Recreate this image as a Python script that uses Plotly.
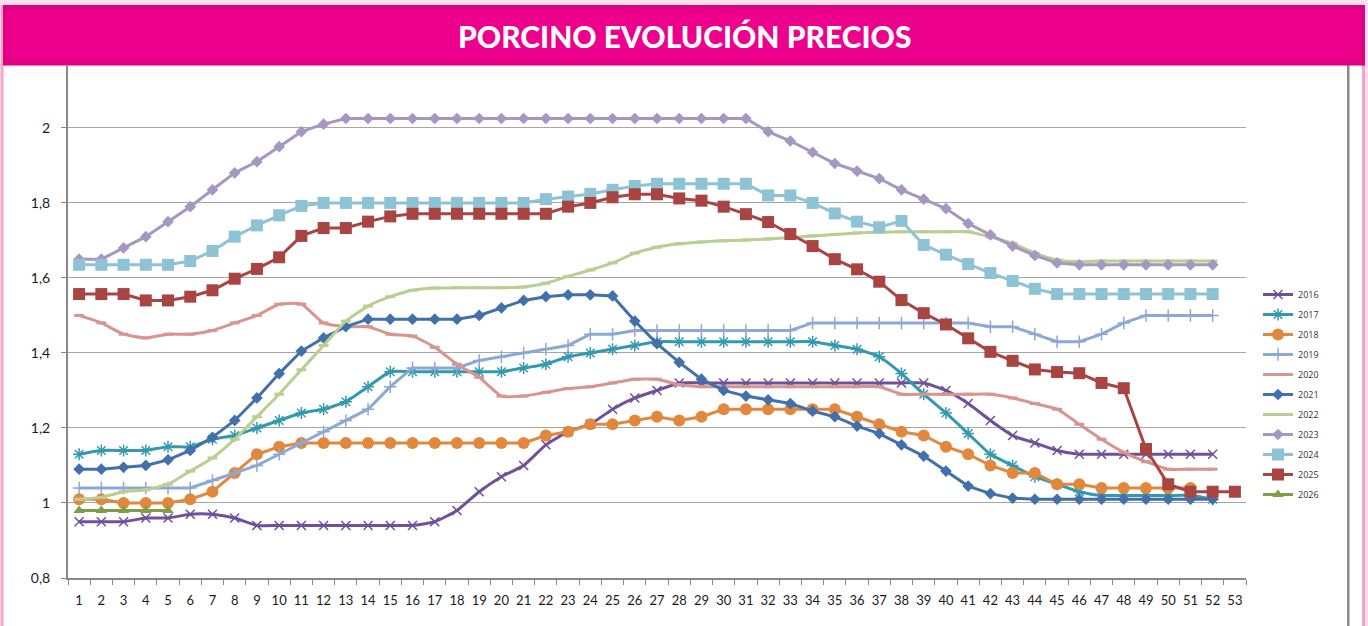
import plotly.graph_objects as go

# ---- weekly pig price series (EUR/kg), one list per year ----
weeks = [str(w) for w in range(1, 54)]

p2016 = [0.95, 0.95, 0.95, 0.96, 0.96, 0.97, 0.97, 0.96, 0.94, 0.94,
         0.94, 0.94, 0.94, 0.94, 0.94, 0.94, 0.95, 0.98, 1.03, 1.07,
         1.10, 1.155, 1.19, 1.21, 1.25, 1.28, 1.30, 1.32, 1.32, 1.32,
         1.32, 1.32, 1.32, 1.32, 1.32, 1.32, 1.32, 1.32, 1.32, 1.30,
         1.265, 1.22, 1.18, 1.16, 1.14, 1.13, 1.13, 1.13, 1.13, 1.13,
         1.13, 1.13]
p2017 = [1.13, 1.14, 1.14, 1.14, 1.15, 1.15, 1.17, 1.18, 1.20, 1.22,
         1.24, 1.25, 1.27, 1.31, 1.35, 1.35, 1.35, 1.35, 1.35, 1.35,
         1.36, 1.37, 1.39, 1.40, 1.41, 1.42, 1.43, 1.43, 1.43, 1.43,
         1.43, 1.43, 1.43, 1.43, 1.42, 1.41, 1.39, 1.345, 1.29, 1.24,
         1.185, 1.13, 1.10, 1.07, 1.05, 1.03, 1.02, 1.02, 1.02, 1.02,
         1.02, 1.01]
p2018 = [1.01, 1.01, 1.00, 1.00, 1.00, 1.01, 1.03, 1.08, 1.13, 1.15,
         1.16, 1.16, 1.16, 1.16, 1.16, 1.16, 1.16, 1.16, 1.16, 1.16,
         1.16, 1.18, 1.19, 1.21, 1.21, 1.22, 1.23, 1.22, 1.23, 1.25,
         1.25, 1.25, 1.25, 1.25, 1.25, 1.23, 1.21, 1.19, 1.18, 1.15,
         1.13, 1.10, 1.08, 1.08, 1.05, 1.05, 1.04, 1.04, 1.04, 1.04,
         1.04]
p2019 = [1.04, 1.04, 1.04, 1.04, 1.04, 1.04, 1.06, 1.08, 1.10, 1.13,
         1.16, 1.19, 1.22, 1.25, 1.31, 1.36, 1.36, 1.36, 1.38, 1.39,
         1.40, 1.41, 1.42, 1.45, 1.45, 1.46, 1.46, 1.46, 1.46, 1.46,
         1.46, 1.46, 1.46, 1.48, 1.48, 1.48, 1.48, 1.48, 1.48, 1.48,
         1.48, 1.47, 1.47, 1.45, 1.43, 1.43, 1.45, 1.48, 1.50, 1.50,
         1.50, 1.50]
p2020 = [1.50, 1.48, 1.45, 1.44, 1.45, 1.45, 1.46, 1.48, 1.50, 1.53,
         1.53, 1.48, 1.47, 1.47, 1.45, 1.445, 1.415, 1.37, 1.335, 1.285,
         1.285, 1.295, 1.305, 1.31, 1.32, 1.33, 1.33, 1.315, 1.31, 1.31,
         1.31, 1.31, 1.31, 1.31, 1.31, 1.31, 1.31, 1.29, 1.29, 1.29,
         1.29, 1.29, 1.28, 1.265, 1.25, 1.21, 1.17, 1.135, 1.11, 1.09,
         1.09, 1.09]
p2021 = [1.09, 1.09, 1.095, 1.10, 1.115, 1.14, 1.175, 1.22, 1.28, 1.345,
         1.405, 1.44, 1.47, 1.49, 1.49, 1.49, 1.49, 1.49, 1.50, 1.52,
         1.54, 1.55, 1.555, 1.555, 1.552, 1.485, 1.425, 1.375, 1.33, 1.30,
         1.285, 1.275, 1.265, 1.245, 1.23, 1.205, 1.185, 1.155, 1.125, 1.085,
         1.045, 1.025, 1.013, 1.01, 1.01, 1.01, 1.01, 1.01, 1.01, 1.01,
         1.01, 1.01]
p2022 = [1.01, 1.015, 1.03, 1.035, 1.05, 1.085, 1.12, 1.17, 1.23, 1.29,
         1.355, 1.42, 1.485, 1.525, 1.55, 1.567, 1.573, 1.574, 1.574, 1.574,
         1.576, 1.586, 1.604, 1.621, 1.64, 1.666, 1.682, 1.691, 1.696, 1.699,
         1.701, 1.704, 1.708, 1.712, 1.716, 1.72, 1.722, 1.723, 1.723, 1.723,
         1.723, 1.709, 1.692, 1.666, 1.648, 1.643, 1.645, 1.645, 1.645, 1.645,
         1.645, 1.645]
p2023 = [1.65, 1.65, 1.68, 1.71, 1.75, 1.79, 1.835, 1.88, 1.91, 1.95,
         1.99, 2.01, 2.025, 2.025, 2.025, 2.025, 2.025, 2.025, 2.025, 2.025,
         2.025, 2.025, 2.025, 2.025, 2.025, 2.025, 2.025, 2.025, 2.025, 2.025,
         2.025, 1.99, 1.965, 1.935, 1.905, 1.885, 1.865, 1.835, 1.81, 1.785,
         1.745, 1.715, 1.685, 1.66, 1.64, 1.635, 1.635, 1.635, 1.635, 1.635,
         1.635, 1.635]
p2024 = [1.635, 1.635, 1.635, 1.635, 1.635, 1.645, 1.672, 1.71, 1.74, 1.767,
         1.792, 1.80, 1.80, 1.80, 1.80, 1.80, 1.80, 1.80, 1.80, 1.80,
         1.80, 1.81, 1.817, 1.824, 1.835, 1.845, 1.851, 1.851, 1.851, 1.851,
         1.851, 1.82, 1.82, 1.80, 1.772, 1.75, 1.735, 1.752, 1.688, 1.662,
         1.637, 1.613, 1.592, 1.571, 1.557, 1.557, 1.557, 1.557, 1.557, 1.557,
         1.557, 1.557]
p2025 = [1.557, 1.557, 1.557, 1.54, 1.54, 1.55, 1.567, 1.598, 1.624, 1.655,
         1.712, 1.733, 1.733, 1.75, 1.764, 1.771, 1.771, 1.771, 1.771, 1.771,
         1.771, 1.771, 1.79, 1.80, 1.815, 1.823, 1.823, 1.812, 1.806, 1.79,
         1.77, 1.749, 1.717, 1.685, 1.65, 1.623, 1.59, 1.541, 1.506, 1.476,
         1.439, 1.403, 1.379, 1.356, 1.349, 1.346, 1.32, 1.306, 1.144, 1.05,
         1.03, 1.03, 1.03]
p2026 = [0.98, 0.98, 0.98, 0.98, 0.98]

series = [
    ("2016", p2016, "#70509A", dict(symbol="x-thin", size=9, line=dict(width=1.5, color="#70509A")), "spline"),
    ("2017", p2017, "#3399AE", dict(symbol="asterisk", size=10, line=dict(width=1.5, color="#3399AE")), "spline"),
    ("2018", p2018, "#E2883C", dict(symbol="circle", size=12), "linear"),
    ("2019", p2019, "#8EA8D6", dict(symbol="cross-thin", size=9, line=dict(width=1.5, color="#8EA8D6")), "linear"),
    ("2020", p2020, "#D8948F", dict(symbol="line-ew", size=7, line=dict(width=3, color="#D8948F")), "spline"),
    ("2021", p2021, "#4170AA", dict(symbol="diamond", size=9), "linear"),
    ("2022", p2022, "#B8CF92", dict(symbol="line-ew", size=7, line=dict(width=3, color="#B8CF92")), "spline"),
    ("2023", p2023, "#A697C2", dict(symbol="diamond", size=9), "linear"),
    ("2024", p2024, "#8EC3D5", dict(symbol="square", size=12), "linear"),
    ("2025", p2025, "#A84442", dict(symbol="square", size=12), "linear"),
    ("2026", p2026, "#7E9D45", dict(symbol="triangle-up", size=10), "linear"),
]

fig = go.Figure()
for name, vals, col, mk, shape in series:
    mk = dict(mk)
    mk.setdefault("color", col)
    fig.add_trace(go.Scatter(
        x=weeks[:len(vals)], y=vals, name=name, mode="lines+markers",
        line=dict(color=col, width=3, shape=shape, smoothing=0.5),
        marker=mk, legendgroup=name,
    ))

# ---- page frame geometry (pixels) ----
W, H = 1368, 626
PL, PR, PT, PB = 68, 1246, 66, 578


def fx(px):
    return (px - PL) / (PR - PL)


def fy(py):
    return (PB - py) / (PB - PT)


shapes = []


def rect(x0, y0, x1, y1, fill, layer="above"):
    shapes.append(dict(type="rect", xref="paper", yref="paper",
                       x0=fx(x0), x1=fx(x1), y0=fy(y1), y1=fy(y0),
                       fillcolor=fill, line=dict(width=0), layer=layer))


# light pink page edge
rect(0, 0, W, 5, "#FCE1EB")
rect(1365, 0, W, H, "#FCE1EB")
# pink side rules
rect(0.5, 5, 3.5, H, "#F4A4C8")
rect(1362, 65, 1365, H, "#F4A4C8")
# grey rule next to the legend
rect(1347, 65, 1349.5, H, "#8A8A8A")

# title banner with darkened edges
TX0, TY0, TX1, TY1 = 3, 5, 1365, 65.5
rect(TX0, TY0, TX1, TY1, "#EC008C")
for i in range(8):
    a = 0.055 * (8 - i) / 8 * 2.2
    c = f"rgba(140,0,70,{a:.3f})"
    rect(TX0, TY0 + i, TX1, TY0 + i + 1, c)
    rect(TX0, TY1 - i - 1, TX1, TY1 - i, c)
    rect(TX0 + i, TY0, TX0 + i + 1, TY1, c)
    rect(TX1 - i - 1, TY0, TX1 - i, TY1, c)

fig.update_layout(
    width=W, height=H,
    margin=dict(l=PL, r=W - PR, t=PT, b=H - PB),
    paper_bgcolor="white", plot_bgcolor="white",
    separators=",.",
    shapes=shapes,
    showlegend=True,
    legend=dict(
        x=fx(1258), y=fy(280), xanchor="left", yanchor="top",
        font=dict(family="Open Sans", size=9, color="#333333"),
        tracegroupgap=1, itemwidth=30, bgcolor="rgba(0,0,0,0)",
    ),
    annotations=[dict(
        text="PORCINO EVOLUCIÓN PRECIOS", xref="paper", yref="paper",
        x=fx(W / 2), y=fy(36), xanchor="center", yanchor="middle",
        showarrow=False,
        font=dict(family="Lato", weight=900, size=30, color="white"),
    )],
)

fig.update_xaxes(
    type="category", categoryorder="array", categoryarray=weeks,
    tickvals=weeks, range=[-0.5, 52.5], tickangle=0,
    showgrid=False, showline=True, linecolor="#878787", linewidth=2,
    ticks="outside", tickson="boundaries", ticklen=5, tickcolor="#878787",
    tickfont=dict(family="Lato", size=13, color="#1A1A1A"),
    ticklabelstandoff=9,
)
fig.update_yaxes(
    range=[0.8, 2.165], tick0=0.8, dtick=0.2,
    showgrid=True, gridcolor="#A6A6A6", gridwidth=1,
    showline=True, linecolor="#878787", linewidth=2,
    ticks="outside", ticklen=5, tickcolor="#878787",
    tickfont=dict(family="Lato", size=14, color="#1A1A1A"),
    ticklabelstandoff=8, zeroline=False,
)

fig.write_html("out.html")
